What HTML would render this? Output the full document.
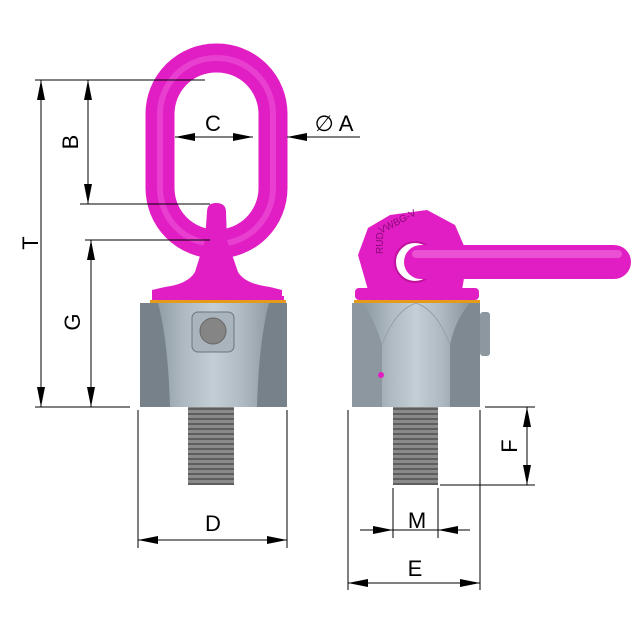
<!DOCTYPE html>
<html><head><meta charset="utf-8"><style>html,body{margin:0;padding:0;background:#fff}svg{display:block}</style></head>
<body>
<svg width="640" height="640" viewBox="0 0 640 640" xmlns="http://www.w3.org/2000/svg" font-family="Liberation Sans, sans-serif">
<defs>
<marker id="a" viewBox="0 0 20 8" refX="20" refY="4" markerWidth="20" markerHeight="8" orient="auto-start-reverse" markerUnits="userSpaceOnUse"><path d="M0,0L20,4L0,8z" fill="#000"/></marker>
<linearGradient id="gb" x1="0" x2="1"><stop offset="0" stop-color="#7f8b94"/><stop offset="0.3" stop-color="#aeb9c1"/><stop offset="0.5" stop-color="#c4ced5"/><stop offset="0.7" stop-color="#aeb9c1"/><stop offset="1" stop-color="#7c8790"/></linearGradient>
<pattern id="th" width="4" height="5" patternUnits="userSpaceOnUse"><rect width="4" height="5" fill="#8a8a8a"/><rect y="3" width="4" height="2" fill="#5e5e5e"/></pattern>
</defs>
<!-- LEFT PART -->
<rect x="160" y="58" width="113" height="186" rx="56" fill="none" stroke="#e01ec4" stroke-width="29"/>
<rect x="160" y="58" width="113" height="186" rx="56" fill="none" stroke="#f060dc" stroke-width="6" opacity="0.5"/>
<path d="M207,212 Q207,203 216,203 Q226,203 226,212 L227,240 L238,272 Q245,284 270,287 L282,290 L282,300 L152,300 L152,290 L165,287 Q188,284 195,272 L205,240Z" fill="#e01ec4"/>
<rect x="152" y="296" width="132" height="6" fill="#e01ec4"/>
<rect x="150" y="300" width="136" height="3" fill="#e49a1a"/>
<rect x="140" y="303" width="147" height="104" fill="url(#gb)"/>
<path d="M140,303 L158,303 Q168,340 170,407 L140,407Z" fill="#76818a"/>
<path d="M287,303 L269,303 Q259,340 257,407 L287,407Z" fill="#76818a"/>
<rect x="192" y="312" width="42" height="40" rx="6" fill="#a9b4bc" stroke="#6b757d"/>
<circle cx="213" cy="331" r="13" fill="#858585" stroke="#666"/>
<rect x="188" y="407" width="46" height="78" fill="url(#th)"/>
<!-- RIGHT PART -->
<path d="M390,215 L427,210 L455,225 L468,255 L462,290 L368,290 L358,255 L368,228Z" fill="#e01ec4"/>
<text x="0" y="0" font-size="10" fill="#8a0a78" transform="translate(383,254) rotate(-90)">RUD</text>
<text x="0" y="0" font-size="10" fill="#8a0a78" transform="translate(381,234) rotate(-28)">VWBG-V</text>
<circle cx="415" cy="262" r="20" fill="#fff"/>
<circle cx="415" cy="262" r="20" fill="none" stroke="#c0129e" stroke-width="2"/>
<rect x="404" y="245" width="227" height="34" rx="17" fill="#e01ec4"/>
<rect x="412" y="250" width="210" height="8" rx="4" fill="#f070e0" opacity="0.6"/>
<rect x="355" y="288" width="124" height="12" rx="4" fill="#e01ec4"/>
<rect x="354" y="300" width="126" height="3" fill="#e49a1a"/>
<rect x="480" y="312" width="10" height="44" rx="3" fill="#8c979f"/>
<rect x="352" y="303" width="128" height="104" fill="url(#gb)"/>
<path d="M352,303 L362,303 Q375,320 382,345 L382,407 L352,407Z" fill="#8c979f"/>
<path d="M480,303 L470,303 Q455,320 450,345 L450,407 L480,407Z" fill="#7e8991"/>
<path d="M382,345 Q395,310 416,303 Q437,310 450,345" fill="none" stroke="#98a3ab"/>
<circle cx="381" cy="375" r="3" fill="#e01ec4"/>
<rect x="393" y="407" width="45" height="78" fill="url(#th)"/>
<!-- DIMENSIONS -->
<g stroke="#000" stroke-width="1" fill="none">
<line x1="35" y1="80" x2="205" y2="80"/>
<line x1="80" y1="204" x2="210" y2="204"/>
<line x1="85" y1="240" x2="210" y2="240"/>
<line x1="35" y1="407" x2="130" y2="407"/>
<line x1="41" y1="80" x2="41" y2="407" marker-start="url(#a)" marker-end="url(#a)"/>
<line x1="88" y1="80" x2="88" y2="204" marker-start="url(#a)" marker-end="url(#a)"/>
<line x1="91" y1="240" x2="91" y2="407" marker-start="url(#a)" marker-end="url(#a)"/>
<line x1="175" y1="137" x2="253" y2="137"/>
<line x1="200" y1="137" x2="175" y2="137" marker-end="url(#a)"/>
<line x1="228" y1="137" x2="253" y2="137" marker-end="url(#a)"/>
<line x1="360" y1="137" x2="287" y2="137" marker-end="url(#a)"/>
<line x1="138" y1="410" x2="138" y2="548"/>
<line x1="287" y1="410" x2="287" y2="548"/>
<line x1="138" y1="540" x2="287" y2="540" marker-start="url(#a)" marker-end="url(#a)"/>
<line x1="485" y1="407" x2="535" y2="407"/>
<line x1="440" y1="485" x2="535" y2="485"/>
<line x1="527" y1="407" x2="527" y2="485" marker-start="url(#a)" marker-end="url(#a)"/>
<line x1="393" y1="488" x2="393" y2="538"/>
<line x1="438" y1="488" x2="438" y2="538"/>
<line x1="360" y1="530" x2="393" y2="530" marker-end="url(#a)"/>
<line x1="470" y1="530" x2="438" y2="530" marker-end="url(#a)"/>
<line x1="393" y1="530" x2="438" y2="530"/>
<line x1="348" y1="410" x2="348" y2="590"/>
<line x1="480" y1="410" x2="480" y2="590"/>
<line x1="348" y1="583" x2="480" y2="583" marker-start="url(#a)" marker-end="url(#a)"/>
</g>
<g font-size="22" fill="#000" text-anchor="middle">
<text transform="translate(38,243) rotate(-90)">T</text>
<text transform="translate(78,142) rotate(-90)">B</text>
<text transform="translate(80,322) rotate(-90)">G</text>
<text x="213" y="131">C</text>
<text x="334" y="131">∅ A</text>
<text x="213" y="531">D</text>
<text transform="translate(517,446) rotate(-90)">F</text>
<text x="417" y="528">M</text>
<text x="415" y="576">E</text>
</g>
</svg>
</body></html>
